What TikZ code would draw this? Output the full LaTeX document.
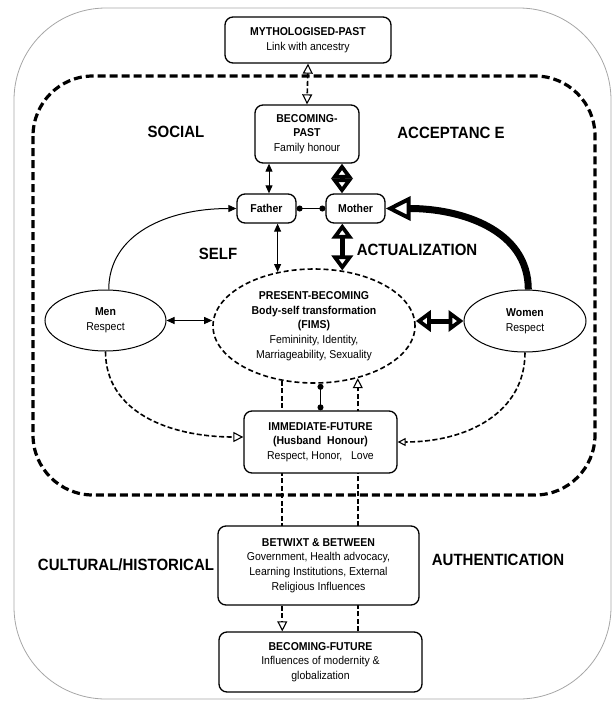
\documentclass[tikz,border=0pt]{standalone}
\usepackage{fontspec}
\setmainfont{Liberation Sans}[FakeStretch=0.92]
\usetikzlibrary{arrows.meta,shapes.geometric}
\pgfdeclarelayer{bg}
\pgfsetlayers{bg,main}
\begin{document}
\begin{tikzpicture}[x=1pt,y=-1pt,
  box/.style={draw, line width=1.3pt, rounded corners=8pt, fill=white, align=center,
    font=\fontsize{11.4}{14.7}\selectfont, inner sep=0pt},
  oval/.style={draw, ellipse, line width=1pt, fill=white, align=center,
    font=\fontsize{11.4}{14.7}\selectfont, inner sep=0pt},
  biglabel/.style={font=\fontsize{16.3}{19}\selectfont\bfseries},
  thinline/.style={line width=1pt},
  dline/.style={line width=1.6pt, dash pattern=on 5pt off 2.5pt},
  bigdash/.style={line width=3.2pt, dash pattern=on 8pt off 4pt},
  fillhead/.tip={Triangle[length=8pt,width=7pt]},
  openhead/.tip={Triangle[open,length=10pt,width=10pt,line width=1.1pt]},
  dothead/.tip={Circle[length=6pt]},
  hollowhead/.tip={Triangle[open,length=15pt,width=21pt,line width=4pt]},
  bighollow/.tip={Triangle[open,length=25pt,width=24pt,line width=4pt]},
]
\useasboundingbox (0,0) rectangle (613,702);

% frames
\draw[gray!70, line width=0.8pt, rounded corners=92pt] (14,8) rectangle (611,699);
\draw[bigdash, rounded corners=60pt] (33,76) rectangle (595,495);

% nodes
\node[box, minimum width=166pt, minimum height=46pt] (myth) at (308,40)
  {\textbf{MYTHOLOGISED-PAST}\\Link with ancestry};
\node[box, minimum width=104pt, minimum height=58pt] (bp) at (307,134)
  {\textbf{BECOMING-}\\\textbf{PAST}\\Family honour};
\node[box, minimum width=59pt, minimum height=29pt] (father) at (266.5,208.5) {\textbf{Father}};
\node[box, minimum width=59pt, minimum height=29pt] (mother) at (355.5,208.5) {\textbf{Mother}};
\node[oval, dash pattern=on 5pt off 3pt, line width=1.6pt,
  minimum width=202pt, minimum height=114pt] (pb) at (314,326)
  {\textbf{PRESENT-BECOMING}\\\textbf{Body-self transformation}\\\textbf{(FIMS)}\\
   Femininity, Identity,\\Marriageability, Sexuality};
\node[oval, minimum width=121pt, minimum height=61pt] (men) at (105.5,320.5)
  {\textbf{Men}\\Respect};
\node[oval, minimum width=122pt, minimum height=62pt] (women) at (525,321)
  {\textbf{Women}\\Respect};
\node[box, minimum width=153pt, minimum height=62pt] (if) at (320.5,442)
  {\textbf{IMMEDIATE-FUTURE}\\\textbf{(Husband~~Honour)}\\Respect, Honor,~~~Love};
\node[box, minimum width=201pt, minimum height=79pt] (bb) at (318.5,565.5)
  {\textbf{BETWIXT \& BETWEEN}\\Government, Health advocacy,\\Learning Institutions, External\\Religious Influences};
\node[box, minimum width=203pt, minimum height=60pt] (bf) at (320.5,662)
  {\textbf{BECOMING-FUTURE}\\Influences of modernity \&\\globalization};

% labels
\node[biglabel] (social) at (176,132) {SOCIAL};
\node[biglabel] (accept) at (451,133) {ACCEPTANC E};
\node[biglabel] (self) at (218,254) {SELF};
\node[biglabel] (actual) at (417,250) {ACTUALIZATION};
\node[biglabel] (cult) at (126,565) {CULTURAL/HISTORICAL};
\node[biglabel] (auth) at (498,560) {AUTHENTICATION};

% connectors behind boxes
\begin{pgfonlayer}{bg}
\draw[dline, -openhead] (pb.240) -- (pb.240 |- bf.north);
\draw[dline, -openhead] (pb.310 |- bf.north) -- (pb.310);
\end{pgfonlayer}

\draw[dline, openhead-openhead] (myth.south) -- (bp.south |- bp.north);
\draw[thinline, fillhead-fillhead] ([xshift=2.5pt]father.north) -- ([xshift=2.5pt]father.north |- bp.south);
\draw[line width=5pt, hollowhead-hollowhead] ([xshift=-13.5pt]mother.north) -- ([xshift=-13.5pt]mother.north |- bp.south);
\draw[thinline, dothead-dothead] (father.east) -- (mother.west);
\draw[thinline, fillhead-fillhead] (pb.124 |- father.south) -- (pb.124);
\draw[line width=5pt, hollowhead-hollowhead] (pb.63 |- mother.south) -- (pb.63);
\draw[thinline, fillhead-fillhead] (men.east) -- (men.east -| pb.west);
\draw[line width=5pt, hollowhead-hollowhead] (women.west -| pb.east) -- (women.west);
\draw[thinline, dothead-dothead] (if.north |- pb.south) -- (if.north);

\draw[thinline, -fillhead] (men.84) .. controls +(0,-55) and +(-70,0) .. (father.west);
\draw[line width=7pt, -bighollow] (women.84) .. controls +(0,-60) and +(75,0) .. (mother.east);
\draw[dline, -openhead] (men.south) .. controls +(0,60) and +(-75,0) .. ([yshift=5pt]if.west);
\draw[dline, -{Triangle[open,length=8pt,width=8pt,line width=1.1pt]}] (women.south) .. controls +(0,60) and +(70,0) .. (if.east);
\end{tikzpicture}
\end{document}
